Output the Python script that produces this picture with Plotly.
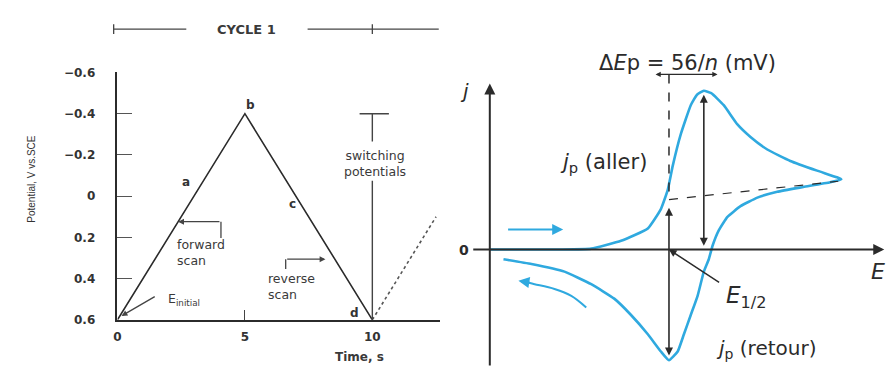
import plotly.graph_objects as go

# ---------- left panel: triangular potential waveform ----------
cycle_time = [0, 5, 10]                 # s
cycle_potential = [0.6, -0.4, 0.6]      # V vs. SCE
next_time = [10, 12.5]                  # start of the next cycle (dotted)
next_potential = [0.6, 0.1]
potential_ticks = [-0.6, -0.4, -0.2, 0, 0.2, 0.4, 0.6]
potential_ticktext = ["−0.6", "−0.4", "−0.2", "0", "0.2", "0.4", "0.6"]
time_ticks = [0, 5, 10]
time_ticktext = ["0", "5", "10"]
point_labels = ["a", "b", "c", "d"]
point_time = [2.7, 5.2, 6.88, 9.3]
point_potential = [-0.07, -0.44, 0.04, 0.565]
cycle_length = 10      # s, one full cycle
time_max = 12.656      # s, right end of the time axis

# ---------- right panel: cyclic voltammogram ----------
# E in mV relative to E1/2, j normalised to the forward peak current
forward_E = [-288, -173, -125, -77, -34, -13, -2, 6, 19, 35, 45, 56, 68, 88,
             110, 131, 158, 195, 238, 270, 277]
forward_j = [0, 0, 0.006, 0.055, 0.133, 0.255, 0.376, 0.527, 0.727, 0.909,
             0.975, 1.0, 0.985, 0.909, 0.788, 0.709, 0.63, 0.558, 0.497, 0.455,
             0.442]
reverse_E = [277, 259, 216, 174, 142, 115, 94, 80, 70, 64, 56, 46, 35, 24, 14,
             0, -13, -34, -61, -88, -125, -168, -221, -266]
reverse_j = [0.442, 0.424, 0.394, 0.364, 0.327, 0.273, 0.206, 0.121, 0.024,
             -0.061, -0.139, -0.291, -0.412, -0.533, -0.642, -0.697, -0.642,
             -0.533, -0.412, -0.309, -0.218, -0.139, -0.091, -0.061]
delta_Ep = 56          # mV, anodic peak position
cathodic_peak_E = 0
anodic_peak_j = 1.0
cathodic_peak_j = -0.697
baseline_E = [0, 272]
baseline_j = [0.315, 0.43]
return_arrow_E = [-133, -157, -184, -216, -237]
return_arrow_j = [-0.364, -0.291, -0.248, -0.218, -0.2]

INK = "#2b2b2b"
GREY = "#3a3a3a"
BLUE = "#2fa9df"
FONT = "DejaVu Sans"

# left-panel placement (pixels), used for decorations drawn in paper space
W, H = 886, 374
LEFT_X0, LEFT_X1 = 114, 438
LEFT_Y_TOP, LEFT_Y_BOT = 68, 325


def t_to_paper(t):
    return (LEFT_X0 + (LEFT_X1 - LEFT_X0) * t / time_max) / W


def px_to_paper_y(py):
    return 1 - py / H


fig = go.Figure()

# waveform
fig.add_trace(go.Scatter(x=cycle_time, y=cycle_potential, mode="lines",
                         line=dict(color=INK, width=1.6), xaxis="x", yaxis="y"))
fig.add_trace(go.Scatter(x=next_time, y=next_potential, mode="lines",
                         line=dict(color="#555", width=1.6, dash="dot"),
                         xaxis="x", yaxis="y"))
# switching-potential marker (T shape broken by its label)
fig.add_trace(go.Scatter(x=[10, 10, None, 10, 10, None, 9.5, 10.65],
                         y=[0.6, -0.075, None, -0.265, -0.4, None, -0.4, -0.4],
                         mode="lines", line=dict(color="#444", width=1.4),
                         xaxis="x", yaxis="y"))
# scan-direction brackets
fig.add_trace(go.Scatter(x=[4.06, 4.06, None, 6.6, 6.6],
                         y=[0.203, 0.124, None, 0.353, 0.306],
                         mode="lines", line=dict(color="#444", width=1.3),
                         xaxis="x", yaxis="y"))

# voltammogram
fig.add_trace(go.Scatter(x=forward_E + reverse_E[1:], y=forward_j + reverse_j[1:],
                         mode="lines", line=dict(color=BLUE, width=2.6, shape="spline",
                                                 smoothing=0.4),
                         xaxis="x2", yaxis="y2"))
# dashed guides: peak separation and forward baseline
fig.add_trace(go.Scatter(x=[cathodic_peak_E, cathodic_peak_E], y=[1.103, 0.315],
                         mode="lines", line=dict(color=INK, width=1.5, dash="dash"),
                         xaxis="x2", yaxis="y2"))
fig.add_trace(go.Scatter(x=baseline_E, y=baseline_j, mode="lines",
                         line=dict(color=INK, width=1.2, dash="dash"),
                         xaxis="x2", yaxis="y2"))
# curved blue return-scan arrow
fig.add_trace(go.Scatter(x=return_arrow_E, y=return_arrow_j,
                         mode="lines", line=dict(color=BLUE, width=2, shape="spline"),
                         xaxis="x2", yaxis="y2"))

ann = []
shapes = []


def arrow(x, y, ax, ay, xr="x", yr="y", color=INK, width=1.4, head=2, side="end",
          size=1.0):
    ann.append(dict(x=x, y=y, ax=ax, ay=ay, xref=xr, yref=yr, axref=xr, ayref=yr,
                    text="", showarrow=True, arrowhead=head, arrowside=side,
                    arrowsize=size, arrowwidth=width, arrowcolor=color,
                    standoff=0, startstandoff=0))


def label(x, y, text, xr="x", yr="y", size=12, anchor="center", weight="normal",
          color=INK, angle=0, align="center"):
    ann.append(dict(x=x, y=y, xref=xr, yref=yr, text=text, showarrow=False,
                    xanchor=anchor, yanchor="middle", textangle=angle, align=align,
                    font=dict(family=FONT, size=size, color=color, weight=weight)))


def paper_line(x0, y0, x1, y1, color="#444", width=1.3):
    shapes.append(dict(type="line", xref="paper", yref="paper", x0=x0, y0=y0,
                       x1=x1, y1=y1, line=dict(color=color, width=width)))


# ----- left panel annotations -----
# "CYCLE 1" header bar spanning one cycle
hy = px_to_paper_y(23)
cap = 5 / H
x_start = t_to_paper(-0.15)
paper_line(x_start, hy, t_to_paper(2.7), hy)
paper_line(x_start, hy - cap, x_start, hy + cap)
paper_line(t_to_paper(7.46), hy, t_to_paper(time_max - 0.05), hy)
paper_line(t_to_paper(cycle_length), hy - cap, t_to_paper(cycle_length), hy + cap)
label(t_to_paper(5.08), hy, "CYCLE 1", "paper", "paper", size=13, weight="bold",
      color=GREY)

for t, v, s in zip(point_time, point_potential, point_labels):
    label(t, v, s, size=12, weight="bold", color="#333")

label(10.12, -0.16, "switching<br>potentials", size=12.5, color=GREY)
label(2.27, 0.273, "forward<br>scan", size=12.5, anchor="left", color=GREY,
      align="left")
arrow(2.38, 0.124, 4.06, 0.124, color="#444", width=1.3, head=2, size=0.9)
label(5.82, 0.437, "reverse<br>scan", size=12.5, anchor="left", color=GREY,
      align="left")
arrow(8.16, 0.306, 6.6, 0.306, color="#444", width=1.3, head=2, size=0.9)
label(1.9, 0.5, "E<sub>initial</sub>", size=12.5, anchor="left", color=GREY)
arrow(0.16, 0.581, 1.52, 0.483, color="#444", width=1.3, head=2, size=0.9)
label(t_to_paper(9.5), px_to_paper_y(364), "Time, s", "paper", "paper", size=12,
      weight="bold", color=GREY)
ann.append(dict(x=20 / W, y=1 - 178 / H, xref="paper", yref="paper",
                text="Potential, V vs.SCE", showarrow=False, textangle=-90,
                font=dict(family="Liberation Sans Narrow, Liberation Sans", size=10,
                          color="#333")))

# ----- right panel annotations -----
arrow(346, 0, -317, 0, "x2", "y2", width=2, head=2, size=1.1)          # E axis
arrow(-288, 1.045, -288, -0.739, "x2", "y2", width=2, head=2, size=1.1)  # j axis
label(-329, 1.0, "<i>j</i>", "x2", "y2", size=20)
label(-330, 0, "0", "x2", "y2", size=14, weight="bold")
label(336, -0.14, "<i>E</i>", "x2", "y2", size=22)

arrow(delta_Ep, anodic_peak_j - 0.025, delta_Ep, 0.015, "x2", "y2", width=1.6,
      head=2, side="end+start", size=1.0)
arrow(cathodic_peak_E, cathodic_peak_j + 0.03, cathodic_peak_E, 0.273, "x2", "y2",
      width=1.6, head=2, side="end+start", size=1.0)
arrow(78, 1.103, -24, 1.103, "x2", "y2", width=1.3, head=2, side="end+start", size=0.8)
arrow(0, 0, 83, -0.212, "x2", "y2", width=1.5, head=2, size=1.0)
arrow(-170, 0.127, -261, 0.127, "x2", "y2", color=BLUE, width=2, head=2, size=1.1)
arrow(-242, -0.196, -222, -0.209, "x2", "y2", color=BLUE, width=2, head=2, size=1.1)

label(29, 1.175, "Δ<i>E</i>p = 56/<i>n</i> (mV)", "x2", "y2", size=21)
label(-105, 0.545, "<i>j</i><sub>p</sub> (aller)", "x2", "y2", size=21)
label(88, -0.3, "<i>E</i><sub>1/2</sub>", "x2", "y2", size=23, anchor="left")
label(72, -0.624, "<i>j</i><sub>p</sub> (retour)", "x2", "y2", size=20, anchor="left")

fig.update_layout(
    width=W, height=H, autosize=False,
    margin=dict(l=0, r=0, t=0, b=0, pad=0),
    paper_bgcolor="white", plot_bgcolor="white",
    showlegend=False,
    annotations=ann,
    shapes=shapes,
    xaxis=dict(domain=[LEFT_X0 / W, LEFT_X1 / W], range=[0, time_max],
               showline=True, linecolor=INK, linewidth=1.6, showgrid=False,
               zeroline=False, ticks="inside", ticklen=10, tickwidth=1.4,
               tickcolor="#444", tickvals=time_ticks, ticktext=time_ticktext,
               ticklabelstandoff=5,
               tickfont=dict(family=FONT, size=12, color="#333", weight="bold")),
    yaxis=dict(domain=[1 - LEFT_Y_BOT / H, 1 - LEFT_Y_TOP / H], range=[0.6, -0.6],
               showline=True, linecolor=INK, linewidth=1.6, showgrid=False,
               zeroline=False, ticks="inside", ticklen=15, tickwidth=1.4,
               tickcolor="#555", tickvals=potential_ticks,
               ticktext=potential_ticktext, ticklabelstandoff=18,
               tickfont=dict(family=FONT, size=12, color="#333", weight="bold")),
    xaxis2=dict(domain=[445 / W, 1], range=[-356.8, 348.8], visible=False),
    yaxis2=dict(domain=[0, 1], range=[-0.7394, 1.5273], visible=False),
)

fig.write_html("out.html")
